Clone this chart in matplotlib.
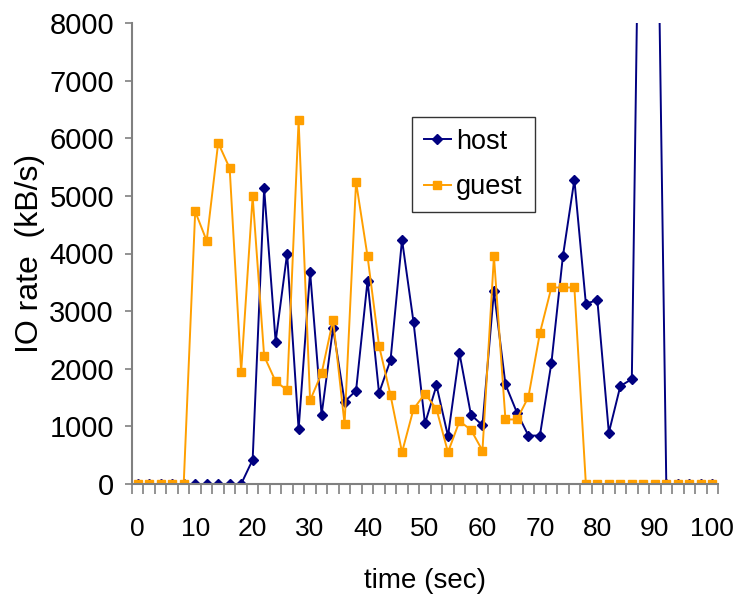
import matplotlib
matplotlib.use('Agg')
import matplotlib.pyplot as plt
from matplotlib.ticker import FixedLocator

# time in seconds, one sample every 2 sec
time_sec = list(range(0, 101, 2))

host = [0, 0, 0, 0, 0, 0, 0, 0, 0, 0,
        420, 5130, 2470, 4000, 950, 3680, 1200, 2710, 1430, 1620,
        3530, 1580, 2150, 4240, 2810, 1050, 1710, 830, 2270, 1200,
        1020, 3350, 1730, 1240, 840, 840, 2100, 3950, 5280, 3130,
        3190, 890, 1700, 1820, 16000, 13800, 0, 0, 0, 0, 0]

guest = [0, 0, 0, 0, 0, 4730, 4220, 5920, 5480, 1950,
         4990, 2220, 1780, 1630, 6310, 1450, 1920, 2850, 1040, 5240,
         3950, 2400, 1540, 550, 1300, 1570, 1300, 550, 1090, 940,
         580, 3950, 1120, 1120, 1510, 2620, 3410, 3410, 3410, 0,
         0, 0, 0, 0, 0, 0, 0, 0, 0, 0, 0]

x_ticks = list(range(0, 101, 10))
y_ticks = list(range(0, 8001, 1000))

plt.rcParams['font.family'] = ['Liberation Sans', 'DejaVu Sans']

fig = plt.figure(figsize=(7.38, 5.97), dpi=100)
ax = fig.add_axes([132 / 738, 113 / 597, 586 / 738, 461 / 597])

ax.plot(time_sec, host, color='#000080', marker='D', markersize=5.5,
        linewidth=1.4, label='host')
ax.plot(time_sec, guest, color='#FF9F00', marker='s', markersize=5.5,
        linewidth=1.4, label='guest')

ax.set_xlim(-1, 101)
ax.set_ylim(0, 8000)

for side in ['top', 'right']:
    ax.spines[side].set_visible(False)
for side in ['left', 'bottom']:
    ax.spines[side].set_color('#808080')
    ax.spines[side].set_linewidth(1.5)

ax.yaxis.set_major_locator(FixedLocator(y_ticks))
ax.tick_params(axis='y', direction='out', length=5, width=1.2, color='#808080',
               labelsize=21, pad=8)

# category style axis: marks between samples, labels every 10 sec
ax.xaxis.set_major_locator(FixedLocator(x_ticks))
ax.xaxis.set_minor_locator(FixedLocator([t + 1 for t in range(-2, 101, 2)]))
ax.tick_params(axis='x', which='major', length=0, labelsize=19, pad=24)
ax.tick_params(axis='x', which='minor', direction='out', length=7, width=1.2,
               color='#808080')

ax.set_ylabel('IO rate  (kB/s)', fontsize=23, labelpad=3)
ax.set_xlabel('time (sec)', fontsize=20, labelpad=19)

leg = ax.legend(loc='upper left', bbox_to_anchor=(0.477, 0.797), fontsize=19.5,
                frameon=True, fancybox=False, edgecolor='black',
                borderaxespad=0, handlelength=1.0, handletextpad=0.2,
                borderpad=0.45, labelspacing=0.72)
leg.get_frame().set_linewidth(1.0)

fig.savefig('out.png', dpi=100)
